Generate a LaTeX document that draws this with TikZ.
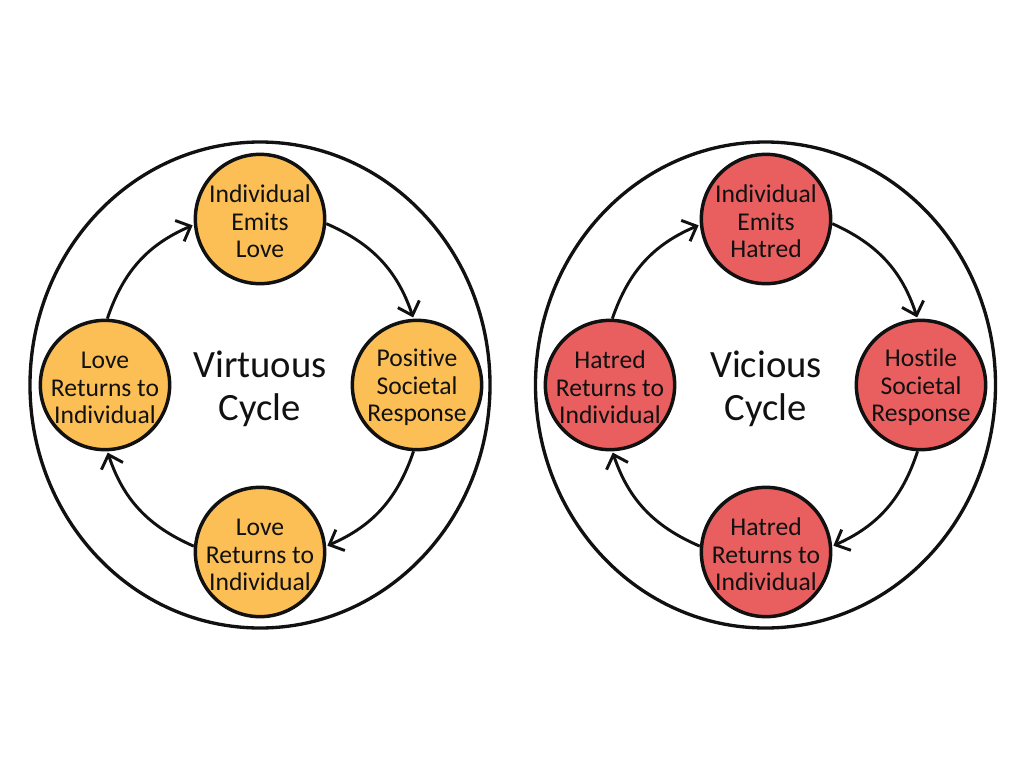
\documentclass[tikz,border=0pt]{standalone}
\usepackage{fontspec}
\setmainfont[Ligatures=NoCommon]{Carlito}
\usetikzlibrary{arrows.meta}
\usetikzlibrary{shapes.geometric}
\definecolor{warmfill}{HTML}{FBBF55}
\definecolor{hotfill}{HTML}{E95F5F}
\definecolor{inkline}{HTML}{111111}
\tikzset{
    ring/.style={draw=inkline, line width=2.5pt, ellipse, minimum width=345pt, minimum height=364.5pt, inner sep=0pt},
    state/.style={draw=inkline, line width=2.6pt, circle, minimum size=97pt, inner sep=-12pt, align=center, text=inkline, text height=58pt, font=\fontsize{19.2}{20.6}\selectfont},
    warm/.style={state, fill=warmfill},
    hot/.style={state, fill=hotfill},
    title/.style={align=center, text=inkline, font=\fontsize{29}{32}\selectfont},
    flow/.style={draw=inkline, line width=2.2pt, -{Straight Barb[length=9pt, width=17pt, line width=2.2pt]}, shorten >=1pt}
}
\begin{document}
\begin{tikzpicture}[x=0.75pt, y=0.75pt]
        \useasboundingbox (0,0) rectangle (1024,-768);

        \node[ring] (ring_v) at (260,-385) {};
        \node[title] (title_v) at (260,-389) {Virtuous\\Cycle};
        \node[warm] (top_v) at (260,-219) {Individual\\Emits\\Love};
        \node[warm] (right_v) at (417,-385) {Positive\\Societal\\Response};
        \node[warm] (bottom_v) at (260,-552) {Love\\Returns to\\Individual};
        \node[warm] (left_v) at (105,-385) {Love\\Returns to\\Individual};

        \draw[flow] (top_v.-4) to[bend left=24] (right_v.93);
        \draw[flow] (right_v.-93) to[bend left=24] (bottom_v.5);
        \draw[flow] (bottom_v.175) to[bend left=24] (left_v.-88);
        \draw[flow] (left_v.88) to[bend left=24] (top_v.185);

        \node[ring] (ring_h) at (765.5,-385) {};
        \node[title] (title_h) at (766,-389) {Vicious\\Cycle};
        \node[hot] (top_h) at (766,-219) {Individual\\Emits\\Hatred};
        \node[hot] (right_h) at (921,-385) {Hostile\\Societal\\Response};
        \node[hot] (bottom_h) at (766,-552) {Hatred\\Returns to\\Individual};
        \node[hot] (left_h) at (610,-385) {Hatred\\Returns to\\Individual};

        \draw[flow] (top_h.-4) to[bend left=24] (right_h.93);
        \draw[flow] (right_h.-93) to[bend left=24] (bottom_h.5);
        \draw[flow] (bottom_h.175) to[bend left=24] (left_h.-88);
        \draw[flow] (left_h.88) to[bend left=24] (top_h.185);
    \end{tikzpicture}
\end{document}
